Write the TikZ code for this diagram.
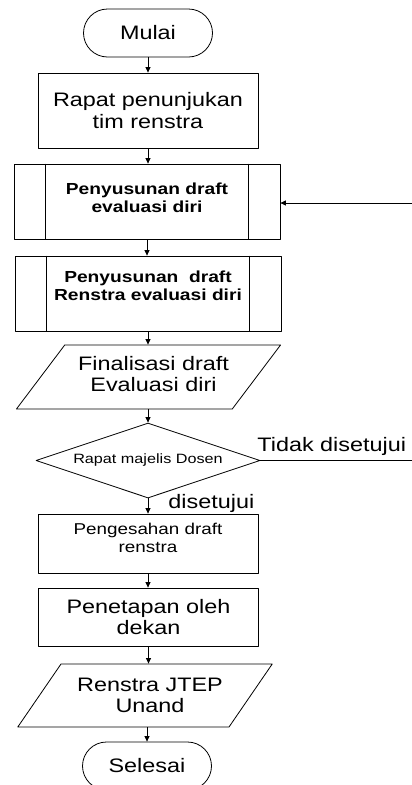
\documentclass[tikz,border=0pt]{standalone}
\usepackage{fontspec}
\setmainfont{Liberation Sans}[FakeStretch=1.2]
\usetikzlibrary{shapes.geometric,arrows.meta}
\tikzset{
  besar/.style={font=\fontsize{19.5}{21.5}\selectfont},
  terminal/.style={draw, besar, rounded corners=24pt, minimum width=129pt, minimum height=48pt},
  proses/.style={draw, align=center, minimum width=220pt, minimum height=75pt},
  subproses/.style={draw, align=center, minimum width=266pt, minimum height=75pt,
    font=\bfseries\fontsize{16}{17.7}\selectfont},
  data/.style={draw, besar, align=center, trapezium, trapezium left angle=45,
    trapezium right angle=135, trapezium stretches=true, minimum width=255pt, minimum height=64pt},
  keputusan/.style={draw, diamond, shape aspect=3, inner sep=1pt, minimum width=224pt,
    minimum height=75pt, font=\fontsize{13.5}{15}\selectfont}
}
\begin{document}
\begin{tikzpicture}[x=1pt, y=-1pt, line width=0.8pt, line join=round, >={Triangle[length=5.5pt,width=5pt]}]
\useasboundingbox (0,0) rectangle (412,785);
% alur utama
\node[terminal] (mulai) at (148,33) {Mulai};
\node[proses, besar] (rapat) at (148,110.5) {Rapat penunjukan\\tim renstra};
\node[subproses] (susun1) at (147,201.5) {Penyusunan draft\\evaluasi diri\\[-9.7pt]\mbox{}};
\node[subproses] (susun2) at (148,293.5) {Penyusunan \ draft\\Renstra evaluasi diri\\[-1.7pt]\mbox{}};
\node[data] (final) at (148.5,377) {\hspace*{10pt}Finalisasi draft\\\hspace*{10pt}Evaluasi diri\\[-15.5pt]\mbox{}};
\node[keputusan] (majelis) at (148,460.5) {Rapat majelis Dosen};
\node[proses, minimum height=59pt, font=\fontsize{15.7}{18}\selectfont] (sah) at (148,543.5) {Pengesahan draft\\renstra\\[-6pt]\mbox{}};
\node[proses, besar, minimum height=58pt] (tetap) at (148.5,617) {Penetapan oleh\\dekan};
\node[data, minimum height=63pt] (renstra) at (145,695.5) {\hspace*{10pt}Renstra JTEP\\\hspace*{10pt}Unand};
\node[terminal] (selesai) at (147,766) {Selesai};
% garis dalam subproses
\foreach \n in {susun1,susun2}{
  \draw ([xshift=32pt]\n.north west) -- ([xshift=32pt]\n.south west);
  \draw ([xshift=-32pt]\n.north east) -- ([xshift=-32pt]\n.south east);
}
% panah
\draw[->] (mulai) -- (mulai.south |- rapat.north);
\draw[->] (rapat) -- (rapat.south |- susun1.north);
\draw[->] (susun1) -- (susun1.south |- susun2.north);
\draw[->] (susun2) -- (susun2.south |- final.north);
\draw[->] (final.south -| majelis) -- (majelis.north);
\draw[->] (majelis) -- (majelis.south |- sah.north);
\draw[->] (sah) -- (sah.south |- tetap.north);
\draw[->] (tetap) -- (tetap.south |- renstra.north);
\draw[->] (renstra.south -| selesai) -- (selesai.north);
% cabang tidak disetujui
\coordinate (ujung) at (412,460.5);
\coordinate (balik) at (412,203);
\draw (majelis.east) -- (ujung);
\draw[->] (balik) -- (balik -| susun1.east);
\node[besar, inner sep=0pt, anchor=base west] (tidak) at (257,451) {Tidak disetujui};
\node[besar, inner sep=0pt, anchor=base west] (setuju) at (168,508) {disetujui};
\end{tikzpicture}
\end{document}
